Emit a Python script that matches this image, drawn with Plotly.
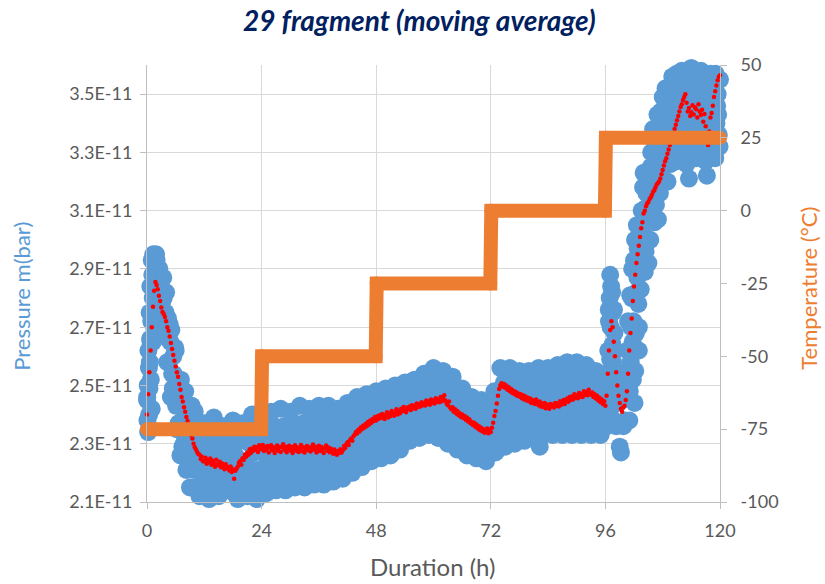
import numpy as np
import plotly.graph_objects as go

# ---------------- data ----------------
# regular sampling every 15 minutes, 0 .. 120 h
SAMPLE_STEP_H = 0.25
hours = np.arange(0, 120 + 1e-9, SAMPLE_STEP_H)

# raw pressure readings (units of 1e-13 bar), one row per hour (4 readings)
pressure_raw = [
    245, 234, 249, 265,  242, 265, 283, 276,  293, 275, 283, 287,  268, 275, 280, 267,
    282, 258, 266, 271,  246, 254, 260, 245,  262, 235, 245, 251,  226, 236, 243, 228,
    248, 221, 234, 242,  215, 227, 236, 221,  241, 215, 227, 234,  212, 223, 231, 219,
    237, 214, 226, 233,  211, 222, 230, 218,  239, 213, 225, 234,  212, 221, 231, 217,
    236, 215, 227, 232,  209, 223, 229, 219,  238, 213, 226, 235,  211, 220, 231, 216,
    237, 214, 224, 233,  212, 222, 230, 218,  240, 215, 227, 234,  211, 221, 229, 217,
    240, 216, 227, 235,  213, 224, 232, 219,  241, 216, 228, 236,  214, 225, 233, 220,
    242, 217, 229, 236,  214, 225, 233, 220,  241, 217, 230, 237,  215, 226, 234, 221,
    243, 218, 230, 237,  215, 227, 235, 222,  242, 218, 231, 238,  216, 227, 235, 222,
    243, 219, 232, 238,  216, 228, 236, 223,  243, 219, 231, 238,  217, 228, 236, 223,
    242, 220, 232, 238,  218, 228, 237, 224,  244, 222, 233, 240,  220, 230, 238, 226,
    246, 224, 235, 242,  222, 232, 240, 228,  247, 226, 237, 243,  224, 234, 241, 230,
    248, 227, 238, 244,  225, 235, 242, 231,  249, 228, 239, 245,  226, 236, 243, 232,
    250, 229, 240, 246,  228, 238, 245, 234,  251, 232, 242, 248,  231, 240, 246, 236,
    252, 234, 244, 249,  232, 241, 247, 238,  254, 235, 245, 251,  233, 242, 249, 239,
    256, 235, 246, 252,  232, 242, 250, 238,  255, 234, 245, 251,  230, 240, 247, 236,
    253, 232, 243, 249,  228, 238, 245, 234,  249, 229, 240, 245,  226, 235, 242, 232,
    246, 227, 237, 243,  225, 233, 240, 230,  245, 226, 236, 242,  224, 232, 239, 229,
    244, 227, 240, 248,  227, 239, 248, 235,  256, 231, 244, 251,  229, 240, 249, 236,
    256, 233, 245, 252,  230, 241, 249, 237,  255, 233, 245, 251,  231, 241, 249, 237,
    255, 234, 245, 251,  232, 242, 249, 238,  256, 229, 246, 252,  233, 243, 250, 239,
    256, 235, 246, 252,  233, 243, 251, 239,  257, 236, 247, 253,  233, 243, 251, 240,
    258, 236, 247, 254,  233, 244, 252, 240,  258, 236, 247, 254,  233, 243, 251, 239,
    257, 236, 247, 253,  233, 243, 250, 239,  255, 235, 246, 251,  233, 242, 248, 238,
    254, 236, 254, 272,  288, 250, 275, 238,  262, 236, 250, 244,  229, 227, 245, 236,
    254, 238, 255, 272,  238, 262, 280, 252,  293, 255, 282, 297,  270, 289, 303, 290,
    323, 289, 311, 323,  292, 310, 325, 308,  338, 306, 325, 337,  307, 324, 338, 322,
    349, 320, 337, 347,  320, 335, 346, 332,  356, 328, 344, 352,  327, 340, 349, 335,
    358, 330, 345, 353,  326, 340, 321, 335,  359, 331, 346, 354,  328, 341, 349, 336,
    358, 330, 344, 352,  327, 322, 349, 335,  357, 331, 345, 353,  328, 340, 350, 336,
    355,
]
RAW_UNIT = 1e-13

# extra raw readings logged during the fast transients (time h, pressure 1e-13 bar)
extra_hours = [
    0.05, 0.1, 0.15, 0.3, 0.4, 0.45, 0.55, 0.6, 0.65, 0.7, 0.8, 0.9, 1.0, 1.1, 1.2, 1.3,
    1.35, 1.5, 1.6, 1.7, 1.9,
    2.1, 2.4, 2.6, 2.9, 3.1, 3.4, 3.6, 3.9, 4.1, 4.4, 4.6, 4.9, 5.1, 5.4, 5.6, 5.9,
    6.1, 6.4, 6.6, 6.9, 7.1, 7.4, 7.6, 7.9, 8.1, 8.4, 8.6, 8.9, 9.4, 9.6,
    96.4, 96.6, 96.7, 96.8, 96.9, 96.95, 97.0, 97.1, 97.2, 97.3, 97.4, 97.5, 97.6, 97.7,
    97.8, 97.9, 98.2,
    100.6, 100.9, 101.1, 101.2, 101.3, 101.4, 101.6, 101.7, 101.9, 102.1, 102.2, 102.4,
    102.6, 102.7, 102.8, 102.9, 103.0, 103.1, 103.2, 103.4, 103.5, 103.6, 103.8, 103.9,
    104.1, 104.2, 104.4, 104.6, 104.8, 105.1, 105.4, 105.6, 105.9, 106.1, 106.4, 106.6,
    106.9, 107.1, 107.4, 107.6, 107.9, 108.1, 108.4, 108.6, 108.9, 109.1, 109.4, 109.6,
    109.9, 110.1, 110.4, 110.6, 110.9,
    111.4, 111.6, 111.9, 112.1, 112.4, 112.6, 112.9, 113.1, 113.4, 113.6, 113.9, 114.1,
    114.4, 114.6, 114.9, 115.1, 115.4, 115.6, 115.9, 116.1, 116.4, 116.6, 116.9, 117.1,
    117.4, 117.6, 117.9, 118.1, 118.4, 118.6, 118.9, 119.1, 119.4, 119.6, 119.9,
]
extra_pressure = [
    246, 238, 250, 262, 256, 240, 275, 258, 266, 284, 252, 272, 293, 288, 280, 295,
    285, 270, 290, 282, 295,
    280, 286, 290, 274, 278, 287, 267, 275, 267, 273, 258, 265, 269, 249, 254, 263,
    243, 252, 237, 245, 252, 229, 238, 231, 241, 226, 243, 230, 243, 229,
    248, 262, 276, 242, 280, 240, 259, 270, 284, 245, 282, 264, 258, 250,
    276, 268, 254,
    262, 250, 248, 281, 258, 270, 290, 265, 272, 244, 300, 268,
    305, 287, 270, 278, 262, 292, 298, 283, 300, 310, 296, 318,
    306, 300, 296, 316, 306, 318, 300, 330, 315, 322, 332, 312,
    343, 330, 316, 344, 333, 326, 342, 352, 328, 340, 352, 326,
    345, 336, 352, 330, 357,
    343, 352, 331, 348, 338, 351, 356, 344, 333, 352, 330, 341,
    350, 338, 333, 356, 352, 344, 331, 349, 339, 337, 355, 343,
    331, 342, 352, 337, 350, 339, 334, 357, 346, 343, 332,
]

# moving average of pressure (units of 1e-14 bar), one row per hour (4 values)
pressure_ma = [
    2400, 2470, 2545, 2620,  2700, 2770, 2825, 2855,  2845, 2830, 2808, 2790,  2768, 2752, 2745, 2735,
    2720, 2700, 2688, 2668,  2646, 2625, 2605, 2585,  2565, 2545, 2530, 2505,  2485, 2460, 2445, 2425,
    2410, 2392, 2378, 2360,  2345, 2330, 2318, 2300,  2288, 2280, 2272, 2265,  2262, 2248, 2255, 2240,
    2240, 2252, 2231, 2244,  2236, 2249, 2228, 2242,  2233, 2221, 2245, 2230,  2226, 2238, 2219, 2232,
    2224, 2212, 2230, 2217,  2219, 2208, 2222, 2203,  2212, 2180, 2207, 2214,  2222, 2235, 2241, 2228,
    2250, 2244, 2262, 2255,  2270, 2262, 2281, 2268,  2284, 2276, 2290, 2279,  2288, 2272, 2295, 2281,
    2284, 2296, 2275, 2290,  2279, 2292, 2270, 2286,  2295, 2278, 2288, 2268,  2283, 2294, 2276, 2289,
    2272, 2287, 2298, 2279,  2290, 2271, 2284, 2293,  2277, 2289, 2268, 2282,  2295, 2276, 2287, 2272,
    2285, 2296, 2274, 2288,  2270, 2283, 2292, 2278,  2288, 2273, 2286, 2297,  2279, 2290, 2270, 2284,
    2293, 2275, 2289, 2281,  2268, 2285, 2294, 2276,  2287, 2271, 2283, 2279,  2266, 2280, 2272, 2262,
    2275, 2268, 2281, 2270,  2278, 2292, 2285, 2298,  2305, 2296, 2312, 2318,  2310, 2326, 2332, 2340,
    2335, 2348, 2342, 2356,  2350, 2362, 2355, 2368,  2360, 2375, 2366, 2380,  2372, 2385, 2378, 2392,
    2380, 2394, 2386, 2398,  2388, 2402, 2392, 2385,  2398, 2408, 2390, 2404,  2395, 2412, 2402, 2396,
    2408, 2418, 2400, 2412,  2405, 2420, 2412, 2426,  2415, 2408, 2424, 2418,  2428, 2416, 2432, 2422,
    2430, 2420, 2438, 2426,  2435, 2428, 2442, 2432,  2440, 2431, 2448, 2436,  2445, 2434, 2452, 2440,
    2448, 2438, 2456, 2444,  2452, 2442, 2460, 2446,  2455, 2466, 2448, 2438,  2432, 2445, 2424, 2418,
    2425, 2410, 2418, 2404,  2412, 2398, 2405, 2392,  2400, 2388, 2395, 2382,  2390, 2376, 2384, 2370,
    2375, 2364, 2372, 2358,  2366, 2352, 2360, 2346,  2355, 2342, 2350, 2338,  2345, 2352, 2336, 2348,
    2340, 2355, 2372, 2395,  2412, 2438, 2465, 2488,  2500, 2508, 2496, 2505,  2492, 2500, 2485, 2494,
    2480, 2488, 2474, 2482,  2470, 2478, 2465, 2472,  2462, 2470, 2456, 2466,  2452, 2462, 2448, 2458,
    2446, 2455, 2440, 2450,  2444, 2436, 2452, 2440,  2432, 2445, 2428, 2438,  2426, 2440, 2422, 2435,
    2430, 2420, 2436, 2428,  2434, 2424, 2440, 2430,  2438, 2428, 2446, 2434,  2442, 2450, 2436, 2448,
    2455, 2444, 2460, 2450,  2462, 2452, 2470, 2458,  2466, 2456, 2474, 2462,  2470, 2460, 2480, 2468,
    2478, 2466, 2485, 2472,  2468, 2476, 2460, 2470,  2455, 2465, 2448, 2458,  2442, 2452, 2436, 2446,
    2430, 2465, 2540, 2620,  2690, 2720, 2700, 2650,  2600, 2545, 2500, 2465,  2440, 2420, 2410, 2425,
    2430, 2450, 2480, 2540,  2620, 2680, 2730, 2790,  2840, 2880, 2920, 2950,  2980, 3010, 3040, 3060,
    3090, 3100, 3115, 3125,  3130, 3140, 3146, 3155,  3165, 3170, 3180, 3190,  3195, 3200, 3210, 3225,
    3240, 3255, 3270, 3280,  3295, 3310, 3325, 3340,  3350, 3365, 3380, 3395,  3410, 3425, 3440, 3456,
    3465, 3480, 3490, 3500,  3470, 3440, 3452, 3425,  3438, 3462, 3430, 3455,  3448, 3420, 3465, 3440,
    3428, 3446, 3405, 3432,  3390, 3345, 3325, 3372,  3420, 3435, 3460, 3490,  3510, 3530, 3548, 3560,
    3565,
]
MA_UNIT = 1e-14

# temperature profile (h, degC)
temp_hours = [0, 23.9, 24.1, 47.9, 48.1, 71.9, 72.1, 95.9, 96.1, 120]
temp_degc = [-75, -75, -50, -50, -25, -25, 0, 0, 25, 25]

# axis ticks
x_ticks = [0, 24, 48, 72, 96, 120]
p_ticks = [2.1e-11, 2.3e-11, 2.5e-11, 2.7e-11, 2.9e-11, 3.1e-11, 3.3e-11, 3.5e-11]
p_tick_text = ["2.1E-11", "2.3E-11", "2.5E-11", "2.7E-11", "2.9E-11", "3.1E-11", "3.3E-11", "3.5E-11"]
t_ticks = [-100, -75, -50, -25, 0, 25, 50]
t_tick_text = ["-100", "-75", "-50", "-25", "0", "25", "50"]

# ---------------- figure ----------------
BLUE = "#5B9BD5"
ORANGE = "#ED7D31"
RED = "#FF0000"
GRID = "#D9D9D9"
AXIS = "#BFBFBF"
TXT = "#595959"
FONT = "Lato"

raw_x = list(hours) + extra_hours
raw_y = [v * RAW_UNIT for v in pressure_raw] + [v * RAW_UNIT for v in extra_pressure]

fig = go.Figure()
fig.add_trace(go.Scatter(
    x=raw_x, y=raw_y, mode="markers", cliponaxis=False,
    marker=dict(size=18, color=BLUE, line=dict(width=0)), name="Pressure", yaxis="y"))
fig.add_trace(go.Scatter(
    x=temp_hours, y=temp_degc, mode="lines+markers", cliponaxis=False,
    line=dict(color=ORANGE, width=14),
    marker=dict(size=14, color=ORANGE, line=dict(width=0)), name="Temperature", yaxis="y2"))
fig.add_trace(go.Scatter(
    x=list(hours), y=[v * MA_UNIT for v in pressure_ma], mode="markers", cliponaxis=False,
    marker=dict(size=4.5, color=RED, line=dict(width=0)), name="Moving average", yaxis="y"))

fig.update_layout(
    width=825, height=584,
    margin=dict(l=147, r=105, t=65, b=82),
    paper_bgcolor="white", plot_bgcolor="white",
    showlegend=False,
    font=dict(family=FONT, color=TXT, size=18),
    xaxis=dict(range=[0, 120], tickvals=x_ticks, showgrid=True, gridcolor=GRID, gridwidth=1,
               showline=True, linecolor=AXIS, linewidth=1, ticks="outside", ticklen=6,
               tickcolor=AXIS, zeroline=False, tickfont=dict(size=18, color=TXT),
               ticklabelstandoff=6),
    yaxis=dict(range=[2.1e-11, 3.6e-11], tickvals=p_ticks, ticktext=p_tick_text,
               showgrid=True, gridcolor=GRID, gridwidth=1, showline=True, linecolor=AXIS,
               ticks="outside", ticklen=6, tickcolor=AXIS, zeroline=False,
               tickfont=dict(size=18, color=TXT), ticklabelstandoff=4),
    yaxis2=dict(range=[-100, 50], tickvals=t_ticks, ticktext=t_tick_text, overlaying="y",
                side="right", showgrid=False, showline=True, linecolor=AXIS, ticks="outside",
                ticklen=6, tickcolor=AXIS, zeroline=False, tickfont=dict(size=18, color=TXT),
                ticklabelstandoff=10),
)

annotations = [
    dict(text="29 fragment (moving average)", x=0.4764, y=1.103, xref="paper", yref="paper",
         showarrow=False, xanchor="center", yanchor="middle",
         font=dict(family=FONT, size=28, color="#002060", weight="bold", style="italic")),
    dict(text="Pressure m(bar)", x=-0.218, y=0.47, xref="paper", yref="paper", showarrow=False,
         textangle=-90, xanchor="center", yanchor="middle",
         font=dict(family=FONT, size=22, color=BLUE)),
    dict(text="Temperature (°C)", x=1.155, y=0.49, xref="paper", yref="paper", showarrow=False,
         textangle=-90, xanchor="center", yanchor="middle",
         font=dict(family=FONT, size=22, color=ORANGE)),
    dict(text="Duration (h)", x=0.499, y=-0.147, xref="paper", yref="paper", showarrow=False,
         xanchor="center", yanchor="middle",
         font=dict(family=FONT, size=24, color=TXT)),
]
fig.update_layout(annotations=annotations)

fig.write_html("out.html")
